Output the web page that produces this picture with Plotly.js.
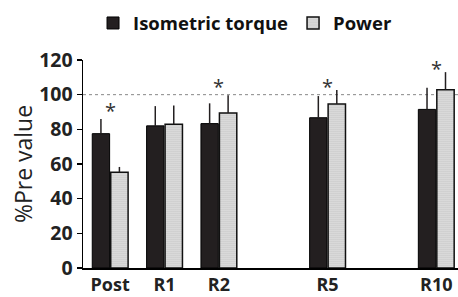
<!DOCTYPE html>
<html>
<head>
<meta charset="utf-8">
<script src="https://cdn.plot.ly/plotly-3.0.1.min.js"></script>
<style>html,body{margin:0;padding:0;background:#fff;}#chart{width:458px;height:297px;}</style>
</head>
<body>
<div id="chart"></div>
<script>
var categories = ['Post', 'R1', 'R2', 'R5', 'R10'];
var positions = [0, 1, 2, 4, 6];
var torque = [77.5, 82, 83.3, 86.7, 91.5];
var torqueErr = [8.5, 11.4, 11.7, 12.5, 12.5];
var power = [55.2, 83, 89.4, 94.6, 102.9];
var powerErr = [3.1, 10.8, 10.3, 8.1, 10.1];
var starPositions = [0, 2, 4, 6];
var starY = [91, 104.5, 105, 115];

var font = 'Open Sans, sans-serif';

var traces = [
  {
    type: 'bar', name: 'Isometric torque', x: positions, y: torque,
    marker: {color: '#231f20', line: {color: '#000', width: 1}},
    error_y: {type: 'data', array: torqueErr, arrayminus: torqueErr.map(function(){return 0;}), symmetric: false, color: '#231f20', thickness: 1.5, width: 0}
  },
  {
    type: 'bar', name: 'Power', x: positions, y: power,
    marker: {color: '#e0e0e0', line: {color: '#111', width: 1.5},
      pattern: {shape: '.', size: 2, solidity: 0.3, fgcolor: '#8f8f8f', bgcolor: '#eaeaea'}},
    error_y: {type: 'data', array: powerErr, arrayminus: powerErr.map(function(){return 0;}), symmetric: false, color: '#231f20', thickness: 1.5, width: 0}
  }
];

var annotations = starPositions.map(function(p, i){
  return {x: p, y: starY[i], xref: 'x', yref: 'y', text: '*', showarrow: false,
    font: {family: font, size: 20, color: '#333'}, yanchor: 'middle'};
});

var layout = {
  width: 458, height: 297,
  margin: {l: 83, r: 0, t: 60, b: 29},
  paper_bgcolor: '#fff', plot_bgcolor: '#fff',
  barmode: 'group', bargap: 0.32, bargroupgap: 0.06,
  showlegend: true,
  legend: {orientation: 'h', x: 0.535, xref: 'container', xanchor: 'center', y: 0.985, yref: 'container', yanchor: 'top',
    font: {family: font, size: 18.5, color: '#111', weight: 'bold'}, itemwidth: 30, tracegroupgap: 0, traceorder: 'normal'},
  xaxis: {
    range: [-0.5, 6.4], tickmode: 'array', tickvals: positions, ticktext: categories,
    showline: true, linecolor: '#000', linewidth: 1.5, ticks: '', showgrid: false, zeroline: false,
    tickfont: {family: font, size: 18, color: '#222', weight: 'bold'}, fixedrange: true
  },
  yaxis: {
    range: [0, 120], dtick: 20, showline: true, linecolor: '#000', linewidth: 1.5,
    ticks: 'outside', ticklen: 5, tickwidth: 1.5, tickcolor: '#000', showgrid: false, zeroline: false,
    tickfont: {family: font, size: 19.5, color: '#222', weight: 'bold'},
    title: {text: '%Pre value', font: {family: font, size: 23, color: '#222'}, standoff: 0}
  },
  shapes: [{type: 'line', xref: 'paper', x0: 0, x1: 1, yref: 'y', y0: 100, y1: 100,
    line: {color: '#888', width: 1, dash: 'dot'}, layer: 'below'}],
  annotations: annotations
};

Plotly.newPlot('chart', traces, layout, {displayModeBar: false, staticPlot: true});
</script>
</body>
</html>
